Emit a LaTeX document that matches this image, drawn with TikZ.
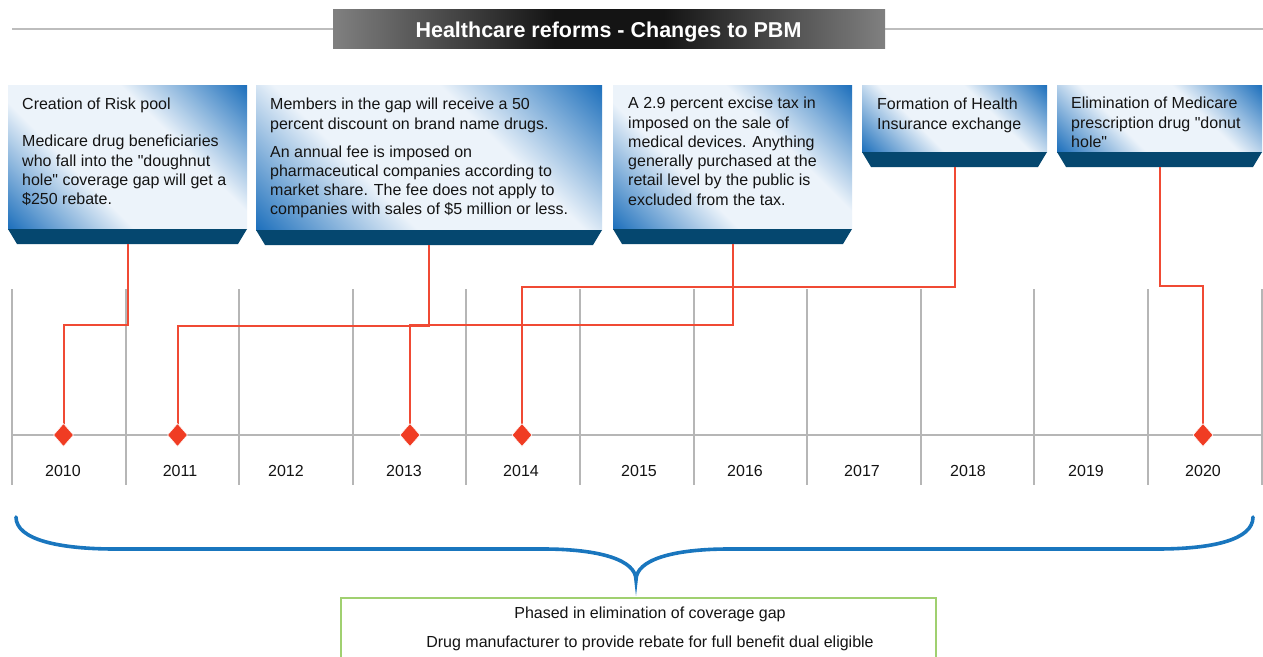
\documentclass[tikz,border=0pt]{standalone}
\usepackage{fontspec}
\setmainfont{Liberation Sans}[Ligatures=TeXOff]
\usetikzlibrary{shapes.geometric,calc}
\definecolor{bblue}{RGB}{33,114,189}
\definecolor{blight}{RGB}{236,243,250}
\definecolor{bandcol}{RGB}{5,71,111}
\definecolor{gridgray}{RGB}{182,182,182}
\definecolor{conred}{RGB}{240,74,52}
\definecolor{diared}{RGB}{240,60,35}
\definecolor{braceblue}{RGB}{25,118,190}
\definecolor{boxgreen}{RGB}{160,208,112}
\definecolor{titlegray}{RGB}{128,128,128}
\definecolor{txt}{RGB}{20,20,20}
\pgfdeclareverticalshading{cardshade}{100bp}{color(0bp)=(bblue); color(15bp)=(bblue); color(38bp)=(blight); color(62bp)=(blight); color(85bp)=(bblue); color(100bp)=(bblue)}
\pgfdeclarehorizontalshading{titleshade}{100bp}{color(0bp)=(titlegray); color(25bp)=(titlegray); color(45bp)=(black!92); color(55bp)=(black!92); color(75bp)=(titlegray); color(100bp)=(titlegray)}
\begin{document}
\begin{tikzpicture}[x=1pt,y=-1pt,
  card/.style={anchor=north west, inner sep=0pt, outer sep=0pt,
    shading=cardshade, shading angle=-45},
  bandfill/.style={fill=bandcol},
  cardtext/.style={anchor=north west, inner sep=0pt, align=left, text=txt,
    font=\fontsize{16}{19.3}\selectfont},
  titlebox/.style={inner sep=0pt, minimum width=552pt, minimum height=39pt,
    shading=titleshade},
  titletext/.style={anchor=base, inner sep=0pt, text=white,
    font=\fontsize{21.5}{24}\selectfont\bfseries},
  titleline/.style={draw=gridgray!90, line width=1.6pt},
  gridline/.style={draw=gridgray, line width=2pt},
  yearlabel/.style={anchor=base, inner sep=0pt, text=txt, font=\fontsize{16}{19}\selectfont},
  conn/.style={draw=conred, line width=2pt},
  marker/.style={diamond, fill=diared, draw=white, line width=0.5pt, inner sep=0pt,
    minimum width=20pt, minimum height=23pt},
  bracepath/.style={draw=braceblue, line width=3.6pt, line cap=round},
  gapbox/.style={anchor=north west, draw=boxgreen, line width=1.5pt, fill=white,
    minimum width=595pt, minimum height=80pt, inner sep=0pt},
  gaptext/.style={anchor=base, inner sep=0pt, text=txt, font=\fontsize{16}{19}\selectfont}
]
\useasboundingbox (0,0) rectangle (1263,656);
\fill[white] (0,0) rectangle (1263,656);

% title
\coordinate (tl) at (12,29);
\coordinate (tr) at (1263,29);
\draw[titleline] (tl) -- (tr);
\node[titlebox] (title) at (609,28.5) {};
\node[titletext] (titlet) at (608.5,37) {Healthcare reforms - Changes to PBM};

% cards
\node[card, minimum width=239pt, minimum height=144pt] (b1) at (8,85) {};
\node[card, minimum width=346pt, minimum height=145pt] (b2) at (256,85) {};
\node[card, minimum width=239pt, minimum height=144pt] (b3) at (613,85) {};
\node[card, minimum width=185pt, minimum height=67pt] (b4) at (862,85) {};
\node[card, minimum width=205pt, minimum height=67pt] (b5) at (1057,85) {};

\foreach \b in {b1,b2,b3,b4,b5}{
  \fill[bandfill] (\b.south west) -- (\b.south east) -- ++(-9,15) -- ($(\b.south west)+(9,15)$) -- cycle;
  \coordinate (\b tail) at ($(\b.south)+(0,15)$);
}

\node[cardtext] (b1t) at ($(b1.north west)+(14,11)$) {\strut Creation of Risk pool\\[17.9pt]
Medicare drug beneficiaries\\
who fall into the "doughnut\\
hole" coverage gap will get a\\
\$250 rebate.};
\node[cardtext] (b2t) at ($(b2.north west)+(14,11)$) {\strut Members in the gap will receive a 50\\
percent discount on brand name drugs.\\[8.7pt]
An annual fee is imposed on\\
pharmaceutical companies according to\\
market share. The fee does not apply to\\
companies with sales of \$5 million or less.};
\node[cardtext] (b3t) at ($(b3.north west)+(15,10)$) {\strut A 2.9 percent excise tax in\\
imposed on the sale of\\
medical devices. Anything\\
generally purchased at the\\
retail level by the public is\\
excluded from the tax.};
\node[cardtext] (b4t) at ($(b4.north west)+(15,11)$) {\strut Formation of Health\\
Insurance exchange};
\node[cardtext] (b5t) at ($(b5.north west)+(14,10)$) {\strut Elimination of Medicare\\
prescription drug "donut\\
hole"};

% grid
\foreach \i in {0,...,11}{
  \draw[gridline] ({12+113.6*\i},289) -- ({12+113.6*\i},485);
}
\coordinate (axl) at (12,435);
\coordinate (axr) at (1262,435);
\draw[gridline] (axl) -- (axr);

% year labels
\node[yearlabel] (y2010) at (63,476) {2010};
\node[yearlabel] (y2011) at (180,476) {2011};
\node[yearlabel] (y2012) at (286,476) {2012};
\node[yearlabel] (y2013) at (404,476) {2013};
\node[yearlabel] (y2014) at (521,476) {2014};
\node[yearlabel] (y2015) at (639,476) {2015};
\node[yearlabel] (y2016) at (745,476) {2016};
\node[yearlabel] (y2017) at (862,476) {2017};
\node[yearlabel] (y2018) at (968,476) {2018};
\node[yearlabel] (y2019) at (1086,476) {2019};
\node[yearlabel] (y2020) at (1203,476) {2020};

% connectors
\coordinate (d1top) at (63.5,425);
\coordinate (d2top) at (177.5,425);
\coordinate (d3top) at (410,425);
\coordinate (d4top) at (522,425);
\coordinate (d5top) at (1203,425);
\draw[conn] (b1tail) -- ++(0,81) -| (d1top);
\draw[conn] (b2tail) -- ++(0,80.5) -| (d2top);
\draw[conn] (b3tail) -- ++(0,81) -| (d3top);
\draw[conn] (b4tail) -- ++(0,120) -| (d4top);
\draw[conn] (b5tail) -- ++(0,119) -| (d5top);

% markers
\node[marker] (d1) at (63.5,435) {};
\node[marker] (d2) at (177.5,435) {};
\node[marker] (d3) at (410,435) {};
\node[marker] (d4) at (522,435) {};
\node[marker] (d5) at (1203,435) {};

% brace
\draw[bracepath] (16,517) .. controls (16,540) and (60,549) .. (115,549) -- (543,549)
  .. controls (600,549) and (636,560) .. (636,580)
  .. controls (636,560) and (672,549) .. (729,549) -- (1157,549)
  .. controls (1212,549) and (1253,540) .. (1253,517);

% bottom box
\node[gapbox] (gap) at (340,597) {};
\node[gaptext] (g1) at (650,618) {Phased in elimination of coverage gap};
\node[gaptext] (g2) at (650,647) {Drug manufacturer to provide rebate for full benefit dual eligible};
\end{tikzpicture}
\end{document}
